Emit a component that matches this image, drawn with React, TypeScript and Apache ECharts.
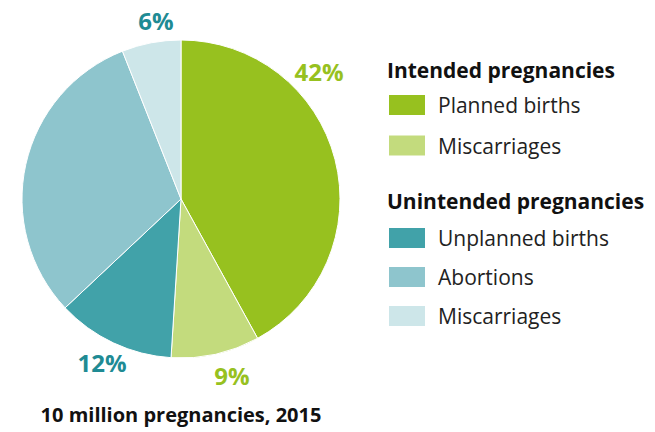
import React, { useEffect, useRef } from "react";
import * as echarts from "echarts";

const sliceNames = ["Planned births", "Miscarriages ", "Unplanned births", "Abortions", "Miscarriages"];
const sliceValues = [42, 9, 12, 31, 6];
const sliceColors = ["#97C11F", "#C3DB7D", "#41A2A9", "#8EC5CD", "#CDE6E9"];
const labelColors = ["#97C11F", "#97C11F", "#1F8B94", "#1F8B94", "#1F8B94"];
const labelPos = [
  [319, 71],
  [232, 375],
  [102, 362],
  [36, 74],
  [156, 20],
];
const intendedLegend = ["Planned births", "Miscarriages "];
const unintendedLegend = ["Unplanned births", "Abortions", "Miscarriages"];
const headers = ["Intended pregnancies", "Unintended pregnancies"];
const caption = "10 million pregnancies, 2015";

const FONT = "'Open Sans', sans-serif";

export default function App() {
  const ref = useRef<HTMLDivElement>(null);
  useEffect(() => {
    if (!ref.current) return;
    const chart = echarts.init(ref.current, undefined, { renderer: "svg" });
    const legendBase = {
      orient: "vertical",
      left: 387,
      padding: 0,
      icon: "rect",
      itemWidth: 38,
      itemHeight: 22,
      selectedMode: false,
      formatter: (n: string) => n.trim(),
      textStyle: { fontFamily: FONT, fontSize: 21, lineHeight: 22, color: "#222", padding: [0, 0, 0, 7] },
    };
    chart.setOption({
      animation: false,
      legend: [
        { ...legendBase, top: 93, itemGap: 16.5, data: intendedLegend },
        { ...legendBase, top: 226, itemGap: 15, data: unintendedLegend },
      ],
      graphic: [
        { type: "text", x: 387, y: 70, style: { text: headers[0], font: `bold 21px ${FONT}`, fill: "#111", verticalAlign: "middle" } },
        { type: "text", x: 387, y: 201, style: { text: headers[1], font: `bold 21px ${FONT}`, fill: "#111", verticalAlign: "middle" } },
        { type: "text", x: 181, y: 414, style: { text: caption, font: `bold 20px ${FONT}`, fill: "#111", align: "center", verticalAlign: "middle" } },
      ],
      series: [
        {
          type: "pie",
          center: [181, 199],
          radius: 159,
          startAngle: 90,
          clockwise: true,
          silent: true,
          itemStyle: { borderColor: "#fff", borderWidth: 1 },
          label: {
            show: true,
            position: "outside",
            formatter: "{c}%",
            fontFamily: FONT,
            fontWeight: "bold",
            fontSize: 24,
          },
          labelLine: { show: false },
          labelLayout: (p: any) => ({
            x: labelPos[p.dataIndex][0],
            y: labelPos[p.dataIndex][1],
            align: "center",
            verticalAlign: "middle",
          }),
          data: sliceNames.map((n, i) => ({
            name: n,
            value: sliceValues[i],
            itemStyle: { color: sliceColors[i] },
            label: { color: labelColors[i] },
          })),
        },
      ],
    });
    return () => chart.dispose();
  }, []);
  return <div ref={ref} style={{ width: 655, height: 432, position: "absolute", left: 0, top: 0 }} />;
}
